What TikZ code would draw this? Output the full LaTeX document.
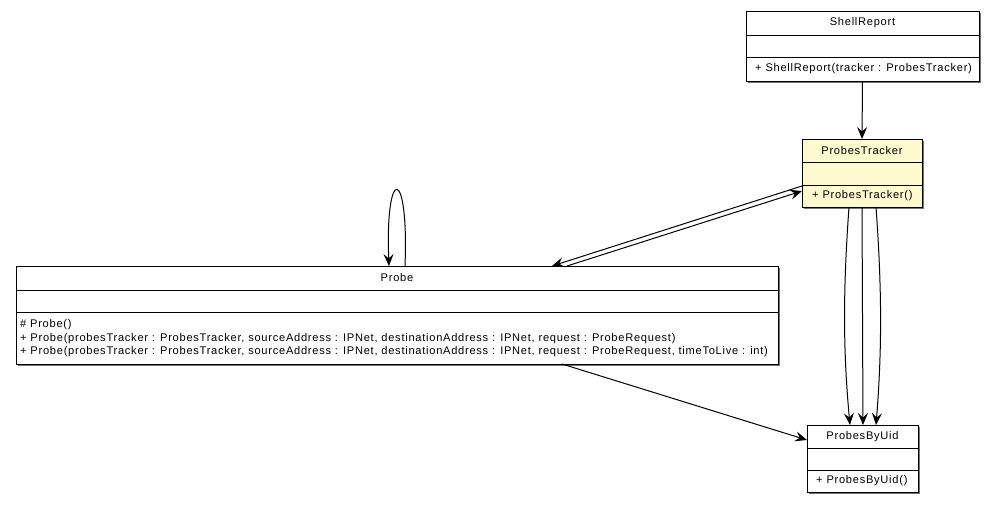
\documentclass[tikz,border=0pt]{standalone}
\usepackage{fontspec}
\setmainfont{Liberation Sans}[LetterSpace=6.6]
\usetikzlibrary{arrows.meta,calc}
\definecolor{trackfill}{RGB}{255,249,206}
\tikzset{
  cls/.style={draw=black, line width=1pt, fill=white, inner sep=0pt, outer sep=0pt, anchor=north west},
  shadow/.style={fill=black!55, draw=none},
  lbl/.style={inner sep=0pt, font=\fontsize{11.1}{13}\selectfont},
  meth/.style={lbl, anchor=west},
  sep/.style={line width=1pt},
  conn/.style={line width=1pt, -{Stealth[length=12pt,width=10pt,inset=4.5pt]}},
}
\begin{document}
\begin{tikzpicture}[x=1pt,y=-1pt]
\useasboundingbox (0,0) rectangle (995,504);
% ShellReport
\fill[shadow] (748,13) rectangle (981,83);
\node[cls, minimum width=233pt, minimum height=70pt] (sr) at (746,11) {};
\draw[sep] (746,35) -- (979,35);
\draw[sep] (746,57) -- (979,57);
\node[lbl] (srt) at (862.5,23) {ShellReport};
\node[meth] (srm) at (755,69) {+ ShellReport(tracker : ProbesTracker)};
% ProbesTracker
\fill[shadow] (804,141) rectangle (924,209);
\node[cls, fill=trackfill, minimum width=120pt, minimum height=68pt] (pt) at (802,139) {};
\draw[sep] (802,162) -- (922,162);
\draw[sep] (802,185) -- (922,185);
\node[lbl] (ptt) at (862,150.5) {ProbesTracker};
\node[meth] (ptm) at (812,196) {+ ProbesTracker()};
% Probe
\fill[shadow] (18,268) rectangle (780,366);
\node[cls, minimum width=762pt, minimum height=98pt] (pr) at (16,266) {};
\draw[sep] (16,290) -- (778,290);
\draw[sep] (16,312) -- (778,312);
\node[lbl] (prt) at (397,278) {Probe};
\node[meth] (prm1) at (20,325) {\# Probe()};
\node[meth] (prm2) at (20,338.5) {+ Probe(probesTracker : ProbesTracker, sourceAddress : IPNet, destinationAddress : IPNet, request : ProbeRequest)};
\node[meth] (prm3) at (20,352) {+ Probe(probesTracker : ProbesTracker, sourceAddress : IPNet, destinationAddress : IPNet, request : ProbeRequest, timeToLive : int)};
% ProbesByUid
\fill[shadow] (809,427) rectangle (920,494);
\node[cls, minimum width=111pt, minimum height=67pt] (pu) at (807,425) {};
\draw[sep] (807,448) -- (918,448);
\draw[sep] (807,470) -- (918,470);
\node[lbl] (put) at (862.5,436.5) {ProbesByUid};
\node[meth] (pum) at (816,481) {+ ProbesByUid()};
% connectors
\draw[conn] (sr.south) -- (pt.north);
\draw[conn] ($(pr.north west)+(389,0)$) .. controls ($(pr.north west)+(393,-101)$) and ($(pr.north west)+(369,-101)$) .. ($(pr.north west)+(373,0)$);
\draw[conn] ($(pt.north west)+(0,47)$) -- ($(pr.north west)+(536,0)$);
\draw[conn] ($(pr.north west)+(551,0)$) -- ($(pt.north west)+(0,52)$);
\draw[conn] ($(pt.south west)+(47,0)$) .. controls ($(pt.south west)+(41,83)$) and ($(pt.south west)+(41,143)$) .. ($(pu.north west)+(43,0)$);
\draw[conn] ($(pt.south west)+(60,0)$) -- ($(pu.north west)+(56,0)$);
\draw[conn] ($(pt.south west)+(74,0)$) .. controls ($(pt.south west)+(80,83)$) and ($(pt.south west)+(80,143)$) .. ($(pu.north west)+(69,0)$);
\draw[conn] ($(pr.south west)+(546,0)$) -- ($(pu.north west)+(0,15)$);
\end{tikzpicture}
\end{document}
